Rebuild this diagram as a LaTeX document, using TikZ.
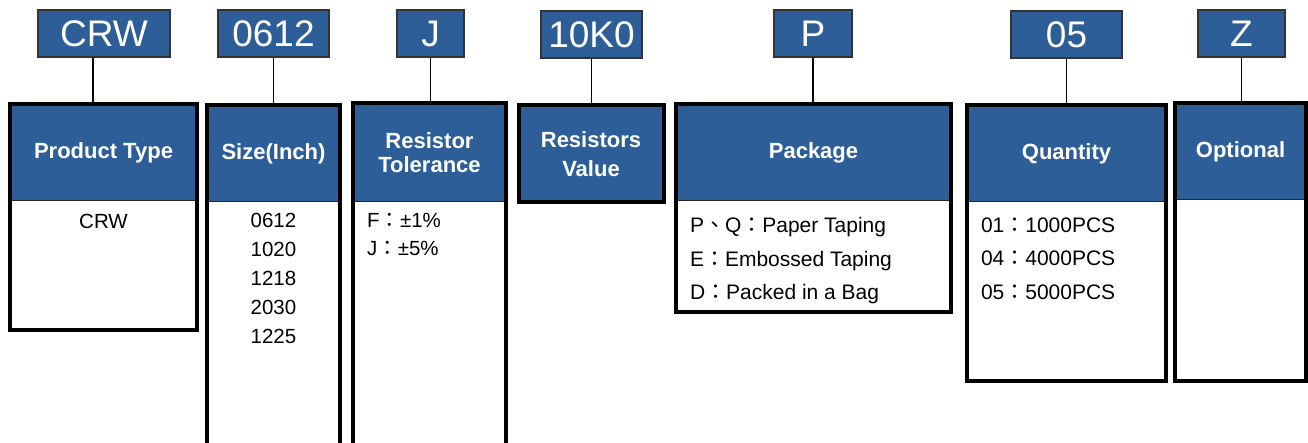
\documentclass[tikz,border=0pt]{standalone}
\usepackage{fontspec}
\setmainfont{Liberation Sans}
\newfontfamily\cjk{Noto Sans CJK TC}
\usepackage{tikz}
\usetikzlibrary{positioning}
\newcommand\colonfw{{\cjk ：}}
\newcommand\commafw{{\cjk 、}}
\definecolor{hdblue}{RGB}{46,94,152}
\tikzset{
code/.style={%
    rectangle,
    fill=hdblue,
    draw=black!80,
    line width=1.2pt,
    text=white,
    inner sep=0pt,
    minimum height=47pt,
    font=\fontsize{37}{37}\selectfont
},
head/.style={%
    rectangle,
    fill=hdblue,
    draw=black!85,
    line width=1pt,
    text=white,
    inner sep=0pt,
    align=center,
    minimum height=96pt,
    font=\bfseries\fontsize{22}{24}\selectfont
},
body/.style={rectangle,inner sep=0pt},
frame/.style={draw=black,line width=4pt},
link/.style={draw=black,line width=1.2pt},
list/.style={inner sep=0pt,text=black,font=\fontsize{20.5}{29}\selectfont},
}

\begin{document}
\begin{tikzpicture}[x=1pt,y=-1pt]
	\clip (0,0) rectangle (1308,443);
	% code boxes
	\node[code, minimum width=132pt] (crw) at (104,33.5) {CRW};
	\node[code, minimum width=111pt] (sz) at (273.5,33.5) {0612};
	\node[code, minimum width=67pt] (tol) at (430.5,33.5) {J};
	\node[code, minimum width=101pt] (val) at (591.5,34.5) {10K0};
	\node[code, minimum width=78pt] (pkg) at (813,33.5) {P};
	\node[code, minimum width=111pt] (qty) at (1066.5,34.5) {05};
	\node[code, minimum width=87pt] (opt) at (1241.5,33.5) {Z};

	% headers
	\node[head, minimum width=187pt] (typeh) at (103.5,153) {Product Type};
	\node[head, minimum width=133pt] (szh) at (273.5,154) {Size(Inch)};
	\node[head, minimum width=153pt, minimum height=98pt] (tolh) at (429.5,153) {Resistor\\Tolerance};
	\node[head, minimum width=144pt, font=\bfseries\fontsize{22}{29}\selectfont] (valh) at (591,154) {Resistors\\Value};
	\node[head, minimum width=275pt] (pkgh) at (813.5,153) {Package};
	\node[head, minimum width=199pt] (qtyh) at (1066.5,154) {Quantity};
	\node[head, minimum width=131pt] (opth) at (1240.5,152) {Optional};

	% bodies
	\node[body, below=0pt of typeh, minimum width=187pt, minimum height=128pt] (typeb) {};
	\node[body, below=0pt of szh, minimum width=133pt, minimum height=258pt] (szb) {};
	\node[body, below=0pt of tolh, minimum width=153pt, minimum height=258pt] (tolb) {};
	\node[body, below=0pt of pkgh, minimum width=275pt, minimum height=110pt] (pkgb) {};
	\node[body, below=0pt of qtyh, minimum width=199pt, minimum height=178pt] (qtyb) {};
	\node[body, below=0pt of opth, minimum width=131pt, minimum height=180pt] (optb) {};

	% lists
	\node[list, below=12pt of typeb.north] (typel) {CRW};
	\node[list, align=center, below=10pt of szb.north] (szl) {0612\\1020\\1218\\2030\\1225};
	\node[list, align=left, anchor=north west, font=\fontsize{20.5}{28}\selectfont] (toll) at ([xshift=14pt,yshift=-11pt]tolb.north west) {F\colonfw±1\%\\J\colonfw±5\%};
	\node[list, align=left, anchor=north west, font=\fontsize{21}{33.5}\selectfont] (pkgl) at ([xshift=14pt,yshift=-16pt]pkgb.north west) {P\commafw Q\colonfw Paper Taping\\E\colonfw Embossed Taping\\D\colonfw Packed in a Bag};
	\node[list, align=left, anchor=north west, font=\fontsize{21}{33.5}\selectfont] (qtyl) at ([xshift=14pt,yshift=-15pt]qtyb.north west) {01\colonfw 1000PCS\\04\colonfw 4000PCS\\05\colonfw 5000PCS};

	% frames
	\draw[frame] (typeh.north west) rectangle (typeb.south east);
	\draw[frame] (szh.north west) rectangle (szb.south east);
	\draw[frame] (tolh.north west) rectangle (tolb.south east);
	\draw[frame] (valh.north west) rectangle (valh.south east);
	\draw[frame] (pkgh.north west) rectangle (pkgb.south east);
	\draw[frame] (qtyh.north west) rectangle (qtyb.south east);
	\draw[frame] (opth.north west) rectangle (optb.south east);

	% links
	\draw[link] ([xshift=-11pt]crw.south) -- ([xshift=-11pt]crw.south |- typeh.north);
	\foreach \c/\h in {sz/szh,tol/tolh,val/valh,pkg/pkgh,qty/qtyh,opt/opth}
		\draw[link] (\c.south) -- (\c.south |- \h.north);
\end{tikzpicture}
\end{document}
